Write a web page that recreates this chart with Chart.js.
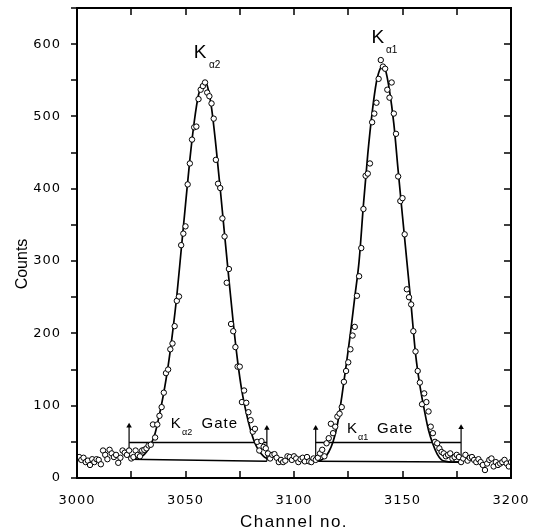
<!DOCTYPE html>
<html>
<head>
<meta charset="utf-8">
<script src="https://cdn.jsdelivr.net/npm/chart.js@4.4.0/dist/chart.umd.min.js"></script>
<style>
  html, body { margin: 0; padding: 0; background: #fff; }
  #wrap { width: 536px; height: 531px; position: relative; }
</style>
</head>
<body>
<div id="wrap"><canvas id="grafico"></canvas></div>
<script>
// Spettro: un conteggio per canale, dal canale 3000 al 3200
const firstChannel = 3000;
const counts = [
  27, 29, 25, 28, 22, 24, 18, 26, 22, 26,
  25, 19, 38, 32, 26, 39, 34, 29, 32, 21,
  28, 38, 35, 32, 38, 27, 29, 38, 32, 30,
  38, 39, 41, 45, 46, 74, 56, 74, 86, 98,
  118, 145, 150, 178, 186, 210, 245, 251, 322, 338,
  348, 406, 435, 468, 485, 486, 524, 537, 542, 547,
  533, 528, 518, 497, 440, 407, 401, 359, 334, 270,
  289, 213, 203, 181, 154, 154, 105, 121, 104, 91,
  80, 64, 68, 50, 38, 51, 43, 41, 34, 27,
  32, 33, 28, 22, 25, 22, 24, 30, 29, 25,
  30, 27, 22, 26, 28, 23, 29, 23, 22, 27,
  25, 28, 34, 39, 30, 48, 55, 75, 62, 71,
  85, 89, 98, 133, 148, 160, 178, 197, 209, 252,
  279, 318, 372, 418, 421, 435, 492, 504, 519, 552,
  578, 569, 566, 537, 526, 547, 504, 476, 417, 383,
  387, 337, 261, 250, 240, 203, 175, 148, 132, 102,
  117, 105, 92, 71, 62, 50, 48, 41, 36, 34,
  30, 32, 34, 27, 29, 32, 29, 22, 27, 32,
  24, 28, 29, 25, 22, 26, 22, 18, 11, 20,
  25, 27, 16, 22, 18, 20, 22, 25, 20, 16,
  22
];

// Curva di fit, picco K alpha 2
const fitA2Channels = [3024, 3026, 3028, 3030, 3032, 3034, 3036, 3038, 3040, 3042, 3044, 3046, 3048, 3050, 3052, 3054, 3056, 3058, 3059, 3060, 3062, 3064, 3066, 3068, 3070, 3072, 3074, 3076, 3078, 3080, 3082, 3084, 3086, 3088];
const fitA2Counts   = [26, 27, 28, 30, 36, 46, 62, 88, 118, 155, 200, 252, 315, 378, 440, 492, 530, 546, 548, 543, 512, 460, 400, 337, 275, 215, 162, 120, 90, 66, 48, 37, 30, 26];

// Curva di fit, picco K alpha 1
const fitA1Channels = [3110, 3112, 3114, 3116, 3118, 3120, 3122, 3124, 3126, 3128, 3130, 3132, 3134, 3136, 3138, 3140, 3141, 3142, 3144, 3146, 3148, 3150, 3152, 3154, 3156, 3158, 3160, 3162, 3164, 3166, 3168, 3170, 3172, 3177];
const fitA1Counts   = [23, 24, 28, 36, 50, 74, 112, 155, 200, 250, 300, 378, 448, 505, 548, 568, 570, 566, 536, 490, 425, 362, 300, 238, 172, 128, 95, 66, 47, 33, 25, 23, 22, 22];

// Finestre (gate): canali estremi, fondo, livello del gate, punta delle frecce
const gateA2Channels = [3024, 3087.5];
const gateA2Base     = [26, 23];
const gateA1Channels = [3110, 3177];
const gateA1Base     = [23, 22];
const gateLevel      = [49, 49];
const arrowTip       = [72, 69, 69, 70];

const xTicks = { min: 3000, max: 3200, step: 25, labelEvery: 50 };
const yTicks = { min: 0, max: 650, step: 50, labelEvery: 100 };

const fontSans = "'Liberation Sans', Arial, sans-serif";
const fontTick = "'DejaVu Sans', sans-serif";

const punti = counts.map((c, i) => ({ x: firstChannel + i, y: c }));
const coppie = (xs, ys) => xs.map((x, i) => ({ x: x, y: ys[i] }));

function linea(data, extra) {
  return Object.assign({
    type: 'scatter',
    data: data,
    showLine: true,
    borderColor: '#000',
    borderWidth: 1.5,
    pointRadius: 0,
    fill: false,
    order: 2
  }, extra || {});
}

function freccia(x, base, tip) {
  return linea([{ x: x, y: base }, { x: x, y: tip }], {
    borderWidth: 1.2,
    pointRadius: [0, 3.2],
    pointStyle: 'triangle',
    pointBackgroundColor: '#000',
    pointBorderColor: '#000',
    pointBorderWidth: 0
  });
}

// Testo un po' spaziato come nell'originale
const spaziatura = {
  id: 'spaziatura',
  beforeDraw(chart) {
    chart.ctx.letterSpacing = '1px';
  }
};

// Cornice, tacche (interne in basso, in alto e a destra, esterne a sinistra) e titoli degli assi
const cornice = {
  id: 'cornice',
  afterDraw(chart) {
    const ctx = chart.ctx;
    const a = chart.chartArea;
    const sx = chart.scales.x, sy = chart.scales.y;
    ctx.save();
    ctx.strokeStyle = '#000';
    ctx.lineWidth = 1.5;
    ctx.beginPath();
    sx.ticks.forEach(t => {
      const px = Math.round(sx.getPixelForValue(t.value));
      ctx.moveTo(px, a.bottom); ctx.lineTo(px, a.bottom - 7);
      ctx.moveTo(px, a.top); ctx.lineTo(px, a.top + 7);
    });
    sy.ticks.forEach(t => {
      const py = Math.round(sy.getPixelForValue(t.value));
      ctx.moveTo(a.left, py); ctx.lineTo(a.left - 6, py);
      ctx.moveTo(a.right, py); ctx.lineTo(a.right - 7, py);
    });
    ctx.stroke();
    ctx.lineWidth = 2;
    ctx.strokeRect(a.left, a.top, a.right - a.left, a.bottom - a.top);

    ctx.fillStyle = '#000';
    ctx.textAlign = 'center';
    ctx.textBaseline = 'alphabetic';
    ctx.letterSpacing = '1.5px';
    ctx.font = '17px ' + fontSans;
    ctx.fillText('Channel no.', (a.left + a.right) / 2, 527);
    ctx.letterSpacing = '0px';
    ctx.font = '16px ' + fontSans;
    ctx.translate(27, 264);
    ctx.rotate(-Math.PI / 2);
    ctx.fillText('Counts', 0, 0);
    ctx.restore();
  }
};

// Etichette K alpha
const etichette = {
  id: 'etichette',
  afterDatasetsDraw(chart) {
    const ctx = chart.ctx;
    const sx = chart.scales.x, sy = chart.scales.y;
    const testo = (s, cx, cy, size) => {
      ctx.font = size + 'px ' + fontSans;
      ctx.fillText(s, sx.getPixelForValue(cx), sy.getPixelForValue(cy));
    };
    ctx.save();
    ctx.fillStyle = '#000';
    ctx.textAlign = 'left';
    ctx.textBaseline = 'alphabetic';
    ctx.letterSpacing = '0px';
    testo('K', 3053.8, 581, 19);
    testo('\u03b12', 3060.8, 567, 10);
    testo('K', 3135.7, 601, 19);
    testo('\u03b11', 3142.4, 588, 10);
    testo('K', 3043.2, 69, 15);
    testo('\u03b12', 3048.4, 60, 9);
    testo('K', 3124.4, 62, 15);
    testo('\u03b11', 3129.5, 52, 9);
    ctx.letterSpacing = '1px';
    testo('Gate', 3057.4, 69, 15);
    testo('Gate', 3138.2, 62, 15);
    ctx.restore();
  }
};

const datasets = [
  {
    type: 'scatter',
    data: punti,
    pointRadius: 2.7,
    pointBorderWidth: 1,
    pointBackgroundColor: '#fff',
    pointBorderColor: '#000',
    order: 0
  },
  linea(coppie(fitA2Channels, fitA2Counts), { cubicInterpolationMode: 'monotone', borderWidth: 1.7, order: 1 }),
  linea(coppie(fitA1Channels, fitA1Counts), { cubicInterpolationMode: 'monotone', borderWidth: 1.7, order: 1 }),
  linea(coppie(gateA2Channels, gateA2Base)),
  linea(coppie(gateA1Channels, gateA1Base)),
  linea(coppie(gateA2Channels, gateLevel)),
  linea(coppie(gateA1Channels, gateLevel)),
  freccia(gateA2Channels[0], gateA2Base[0], arrowTip[0]),
  freccia(gateA2Channels[1], gateA2Base[1], arrowTip[1]),
  freccia(gateA1Channels[0], gateA1Base[0], arrowTip[2]),
  freccia(gateA1Channels[1], gateA1Base[1], arrowTip[3])
];

const ctx = document.getElementById('grafico').getContext('2d');
const grafico = new Chart(ctx, {
  type: 'scatter',
  data: { datasets: datasets },
  plugins: [spaziatura, cornice, etichette],
  options: {
    responsive: true,
    maintainAspectRatio: false,
    animation: false,
    devicePixelRatio: 1,
    layout: { padding: { top: 8, right: 25, left: 0, bottom: 0 } },
    plugins: {
      legend: { display: false },
      tooltip: { enabled: false }
    },
    scales: {
      x: {
        type: 'linear',
        min: xTicks.min,
        max: xTicks.max,
        afterFit: s => { s.height = 53; s.paddingLeft = 0; s.paddingRight = 0; },
        grid: { display: false },
        border: { display: false },
        ticks: {
          stepSize: xTicks.step,
          autoSkip: false,
          maxRotation: 0,
          padding: 7,
          color: '#000',
          font: { family: fontTick, size: 13 },
          callback: v => (v % xTicks.labelEvery === 0 ? v : '')
        }
      },
      y: {
        type: 'linear',
        min: yTicks.min,
        max: yTicks.max,
        afterFit: s => { s.width = 77; s.paddingTop = 0; s.paddingBottom = 0; },
        grid: { display: false },
        border: { display: false },
        ticks: {
          stepSize: yTicks.step,
          autoSkip: false,
          padding: 8,
          color: '#000',
          font: { family: fontTick, size: 13 },
          callback: v => (v % yTicks.labelEvery === 0 ? v : '')
        }
      }
    }
  }
});
</script>
</body>
</html>
